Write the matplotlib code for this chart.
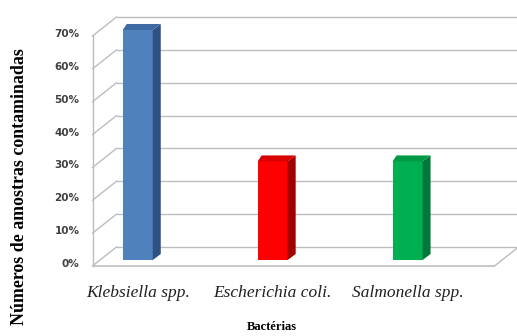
import numpy as np
import matplotlib
matplotlib.use("Agg")
import matplotlib.pyplot as plt
from matplotlib.patches import Polygon

# Dados
bacterias = ["Klebsiella spp.", "Escherichia coli.", "Salmonella spp."]
percentuais = [70, 30, 30]
cores_frente = ["#4F81BD", "#FF0000", "#00B050"]
cores_topo = ["#3E6BA3", "#D80000", "#009A45"]
cores_lado = ["#2F5283", "#A00000", "#00783A"]
niveis = [0, 10, 20, 30, 40, 50, 60, 70]
rotulos_y = ["0%", "10%", "20%", "30%", "40%", "50%", "60%", "70%"]

W, H, DPI = 517, 336, 100
fig = plt.figure(figsize=(W / DPI, H / DPI), dpi=DPI)
# plano frontal das barras em pixels: x 100..502, y 30..260
ax = fig.add_axes([100 / W, (H - 260) / H, 402 / W, 230 / H])
xmin, xmax = -0.28, 2.70
ax.set_xlim(xmin, xmax)
ax.set_ylim(0, 70)
ax.axis("off")

# pixels por unidade de dados
px_x = 402 / (xmax - xmin)
px_y = 230 / 70


def dx(p):
    return p / px_x


def dy(p):
    # p em pixels para cima
    return p / px_y


grid_c = "#BDBDBD"
# deslocamentos 3D (pixels): frente (-7.5, -6), fundo (+16.5, +13)
fx, fy = dx(-7.5), dy(-6)
bx, by = dx(16.5), dy(13)

for v in niveis:
    # linhas de grade da parede do fundo
    ax.plot([xmin + bx, xmax + 1], [v + by, v + by], color=grid_c, lw=1.0, clip_on=False)
    # diagonais da parede lateral
    ax.plot([xmin + fx, xmin + bx], [v + fy, v + by], color=grid_c, lw=1.0, clip_on=False)

# aresta frontal da parede lateral
ax.plot([xmin + fx, xmin + fx], [0 + fy, 70 + fy], color=grid_c, lw=1.0, clip_on=False)
# piso: aresta frontal e diagonal direita
ax.plot([xmin + fx, xmax + fx], [fy, fy], color=grid_c, lw=1.2, clip_on=False)
ax.plot([xmax + fx, xmax + bx], [fy, by], color=grid_c, lw=1.0, clip_on=False)

# barras 3D
largura = 30 / px_x
px_d, py_d = dx(8), dy(6)
for i, (v, cf, ct, cl) in enumerate(zip(percentuais, cores_frente, cores_topo, cores_lado)):
    ax.bar(i, v, width=largura, color=cf, zorder=3)
    x0, x1 = i - largura / 2, i + largura / 2
    lado = Polygon([(x1, 0), (x1 + px_d, py_d), (x1 + px_d, v + py_d), (x1, v)],
                   closed=True, facecolor=cl, edgecolor="none", zorder=3, clip_on=False)
    topo = Polygon([(x0, v), (x1, v), (x1 + px_d, v + py_d), (x0 + dx(4), v + py_d)],
                   closed=True, facecolor=ct, edgecolor="none", zorder=3, clip_on=False)
    ax.add_patch(lado)
    ax.add_patch(topo)

# rótulos do eixo y
for v, r in zip(niveis, rotulos_y):
    ax.text(xmin + fx - dx(13), v + fy + dy(2), r, ha="right", va="center",
            fontsize=7.5, fontweight="bold", color="#404040", family="DejaVu Sans",
            clip_on=False)

# rótulos das categorias
for i, b in enumerate(bacterias):
    ax.text(i, fy - dy(27), b, ha="center", va="center", fontsize=12.5,
            style="italic", family="Liberation Serif", color="#202020", clip_on=False)

fig.text(272 / W, 1 - 327 / H, "Bactérias", ha="center", va="center", fontsize=9,
         fontweight="bold", family="Liberation Serif")
fig.text(20 / W, 1 - 187 / H, "Números de amostras contaminadas", ha="center", va="center",
         rotation=90, fontsize=12.9, fontweight="bold", family="Liberation Serif")

fig.savefig("out.png", dpi=DPI)
